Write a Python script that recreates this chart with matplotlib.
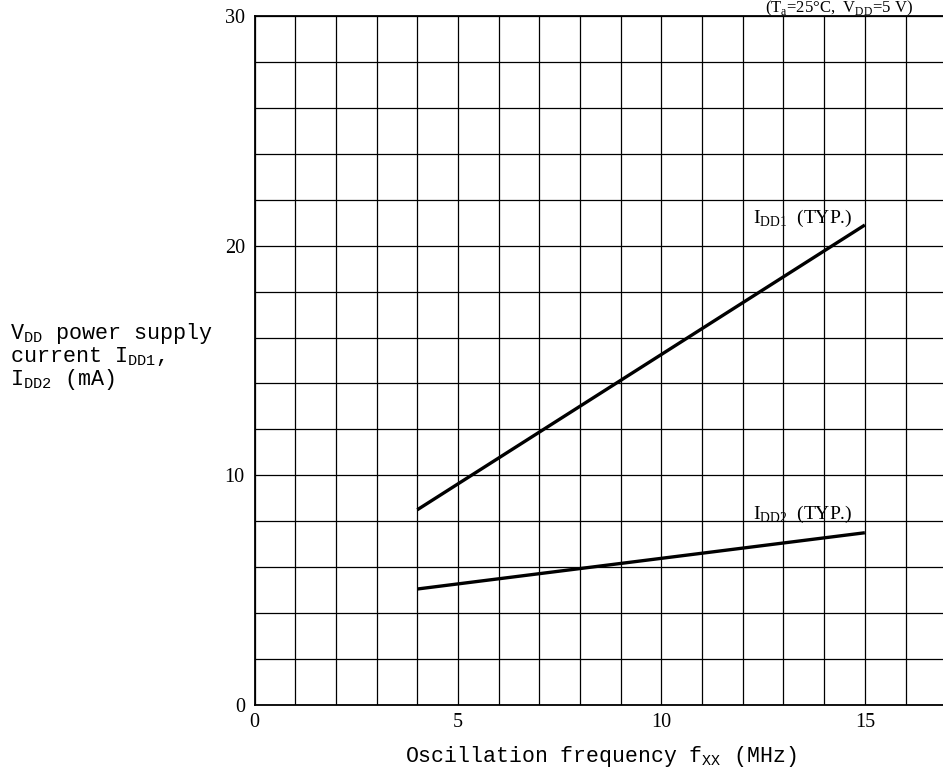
import matplotlib
matplotlib.use("Agg")
import matplotlib.pyplot as plt
import numpy as np

# ---- data ----
freq = [4, 15]                 # MHz
idd1 = [8.5, 20.9]             # mA (TYP.)
idd2 = [5.05, 7.5]             # mA (TYP.)
x_major = [0, 5, 10, 15]
y_major = [0, 10, 20, 30]
x_minor = list(range(0, 17))
y_minor = list(range(0, 31, 2))

serif = "Liberation Serif"
mono = "Liberation Mono"

W, H = 943, 775
fig = plt.figure(figsize=(W / 100, H / 100), dpi=100)
ax = fig.add_axes([254.5 / W, (H - 705) / H, 688.5 / W, 689 / H])

ax.set_xlim(0, 16.92)
ax.set_ylim(0, 30)

ax.set_xticks(x_major)
ax.set_yticks(y_major)
ax.set_xticks(x_minor, minor=True)
ax.set_yticks(y_minor, minor=True)
ax.grid(which="both", color="black", linewidth=0.9)
ax.set_axisbelow(True)
ax.tick_params(which="both", length=0)
ax.tick_params(axis="x", pad=6)
ax.tick_params(axis="y", pad=7)
for lab in ax.get_xticklabels() + ax.get_yticklabels():
    lab.set_fontfamily(serif)
    lab.set_fontsize(14.5)

for side in ["left", "bottom", "top"]:
    ax.spines[side].set_color("black")
    ax.spines[side].set_linewidth(1.3)
ax.spines["right"].set_visible(False)

ax.plot(freq, idd1, color="black", linewidth=2.4, solid_capstyle="butt")
ax.plot(freq, idd2, color="black", linewidth=2.4, solid_capstyle="butt")

ax.text(12.25, 21.0, r"I$_\mathregular{DD1}$  (TYP.)", fontfamily=serif,
        fontsize=14, va="baseline", ha="left")
ax.text(12.25, 8.1, r"I$_\mathregular{DD2}$  (TYP.)", fontfamily=serif,
        fontsize=14, va="baseline", ha="left")

# condition note (top-right)
fig.text(765 / W, 1 - 12 / H, r"(T$_\mathregular{a}$=25°C,  V$_\mathregular{DD}$=5 V)",
         fontfamily=serif, fontsize=12, va="baseline", ha="left")

# axis labels
fig.text(601 / W, 1 - 762 / H, r"Oscillation frequency f$_\mathregular{XX}$ (MHz)",
         fontfamily=mono, fontsize=15.5, va="baseline", ha="center")

ylines = [r"V$_\mathregular{DD}$ power supply",
          r"current I$_\mathregular{DD1}$,",
          r"I$_\mathregular{DD2}$ (mA)"]
for txt, base in zip(ylines, [339, 362, 385]):
    fig.text(10 / W, 1 - base / H, txt, fontfamily=mono, fontsize=15.7,
             va="baseline", ha="left")

fig.savefig("out.png", dpi=100)
